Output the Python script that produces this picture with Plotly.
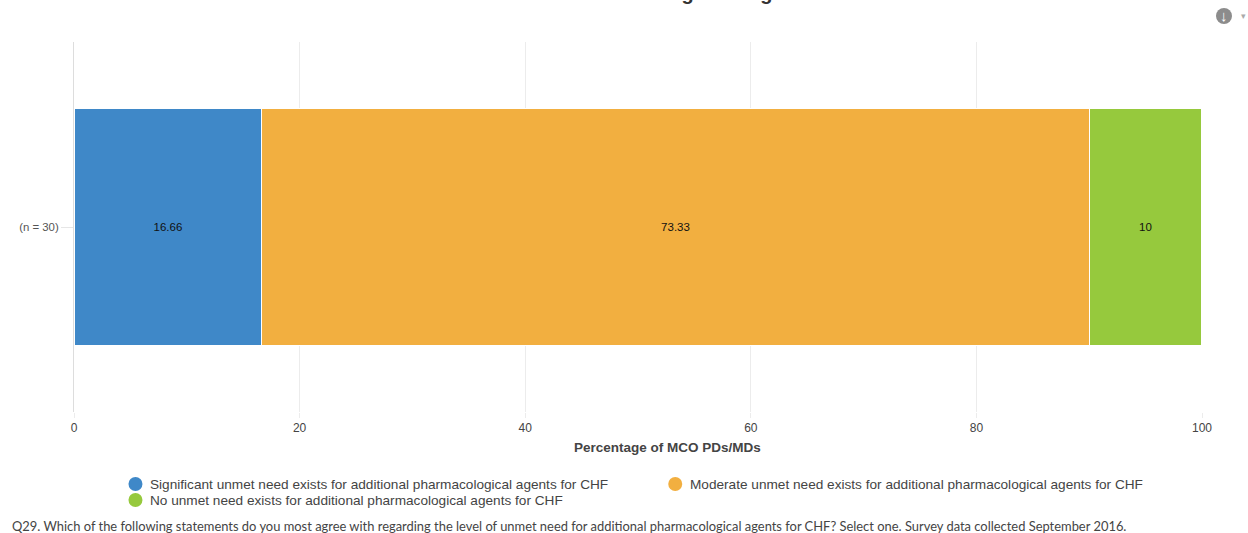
import plotly.graph_objects as go

categories = ["(n = 30)"]
series_names = [
    "Significant unmet need exists for additional pharmacological agents for CHF",
    "Moderate unmet need exists for additional pharmacological agents for CHF",
    "No unmet need exists for additional pharmacological agents for CHF",
]
series_values = [[16.66], [73.33], [10]]
series_labels = ["16.66", "73.33", "10"]
series_colors = ["#3F88C8", "#F2AF40", "#96C93D"]
x_ticks = [0, 20, 40, 60, 80, 100]
x_title = "Percentage of MCO PDs/MDs"
footnote = ("Q29. Which of the following statements do you most agree with regarding the level of "
            "unmet need for additional pharmacological agents for CHF? Select one. Survey data collected September 2016.")

W, H = 1248, 533
L, R, T, B = 73.5, 46, 42, 121
def fx(x): return (x - L) / (W - L - R)
def fy(y): return (H - B - y) / (H - T - B)

fig = go.Figure()
for name, vals, lab, col in zip(series_names, series_values, series_labels, series_colors):
    fig.add_bar(y=categories, x=vals, orientation="h", name=name, showlegend=False,
                marker=dict(color=col, line=dict(color="white", width=1)),
                text=[lab], textposition="inside", insidetextanchor="middle",
                textangle=0, constraintext="none",
                textfont=dict(family="Liberation Sans", size=11.5, color="#111111"))

fig.update_layout(
    width=W, height=H, autosize=False, template=None,
    margin=dict(l=L, r=R, t=T, b=B, pad=0),
    paper_bgcolor="white", plot_bgcolor="white",
    barmode="stack", bargap=0.362, showlegend=False,
    font=dict(family="Liberation Sans", size=12, color="#444444"),
    title=dict(text="<b>g" + "\u00a0" * 12 + "g</b>", x=727 / W, xanchor="center",
               xref="container", yref="container", y=1, yanchor="bottom",
               font=dict(family="Liberation Sans", size=20, color="#333333")),
    xaxis=dict(range=[0, 100], tickvals=x_ticks, showgrid=True, gridcolor="#ECECEC", gridwidth=1,
               zeroline=False, showline=False, ticks="outside", ticklen=5, tickcolor="#ECECEC",
               tickfont=dict(size=12, color="#444444")),
    yaxis=dict(showgrid=False, zeroline=False, showline=True, linecolor="#DDDDDD", linewidth=1,
               ticks="outside", ticklen=12, tickcolor="#E6E6E6",
               tickfont=dict(size=11.4, color="#555555")),
)

def note(text, x, y, xanchor="center", **kw):
    fig.add_annotation(text=text, xref="paper", yref="paper", x=fx(x), y=fy(y),
                       xanchor=xanchor, yanchor="middle", showarrow=False, **kw)

note(f"<b>{x_title}</b>", 667, 448, font=dict(size=13.5, color="#444444"))

# legend entries laid out as in the reference
legend_pos = [(135, 484), (675, 484), (135, 500)]
for name, col, (lx, ly) in zip(series_names, series_colors, legend_pos):
    fig.add_shape(type="circle", xref="paper", yref="paper", fillcolor=col, line_width=0,
                  x0=fx(lx - 7), x1=fx(lx + 7), y0=fy(ly + 7), y1=fy(ly - 7))
    note(name, lx + 13, ly, xanchor="left", font=dict(size=13.63, color="#444444"))

note(footnote, 9, 526, xanchor="left", font=dict(family="Lato", size=12.92, color="#444444"))

# export button
fig.add_shape(type="circle", xref="paper", yref="paper", fillcolor="#8C8C8C", line_width=0,
              layer="below", x0=fx(1216), x1=fx(1232), y0=fy(24), y1=fy(8))
note("<b>↓</b>", 1224, 15.5, font=dict(size=15, color="white"))
note("▾", 1244, 16, font=dict(size=9, color="#AAAAAA"))

fig.write_html("out.html", config={"displayModeBar": False},
               post_script="document.body.style.margin='0';")
